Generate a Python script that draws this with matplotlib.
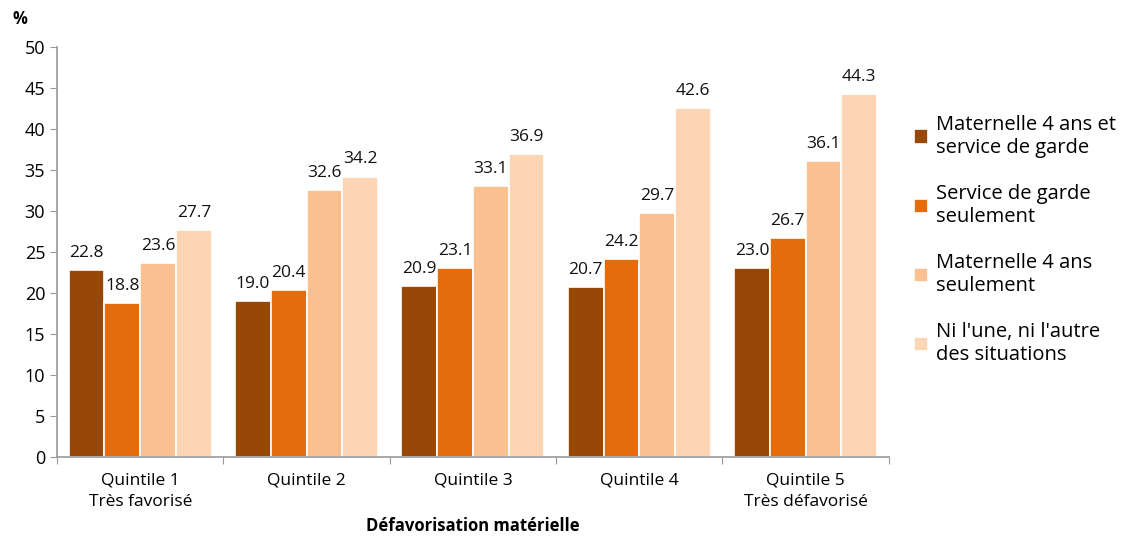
import numpy as np
import matplotlib.pyplot as plt

plt.rcParams['font.family'] = ['Open Sans', 'DejaVu Sans']

categories = ['Quintile 1\nTrès favorisé', 'Quintile 2', 'Quintile 3', 'Quintile 4', 'Quintile 5\nTrès défavorisé']
series_names = ["Maternelle 4 ans et\nservice de garde",
                "Service de garde\nseulement",
                "Maternelle 4 ans\nseulement",
                "Ni l'une, ni l'autre\ndes situations"]
mat_et_garde = [22.8, 19.0, 20.9, 20.7, 23.0]
garde_seul = [18.8, 20.4, 23.1, 24.2, 26.7]
mat_seul = [23.6, 32.6, 33.1, 29.7, 36.1]
ni_lun = [27.7, 34.2, 36.9, 42.6, 44.3]
colors = ['#974706', '#E46C0A', '#FAC090', '#FCD5B5']

values = [mat_et_garde, garde_seul, mat_seul, ni_lun]

fig = plt.figure(figsize=(11.41, 5.39), dpi=100)
ax = fig.add_axes([0.05, 0.152, 0.729, 0.761])

x = np.arange(len(categories))
width = 0.215
for i, (vals, name, c) in enumerate(zip(values, series_names, colors)):
    pos = x + (i - 1.5) * width
    bars = ax.bar(pos, vals, width, color=c, edgecolor='white', linewidth=1.2, label=name)
    for b, v in zip(bars, vals):
        ax.text(b.get_x() + b.get_width() / 2, v + 1.1, f'{v:.1f}',
                ha='center', va='bottom', fontsize=12.5, color='#111111')

ax.set_xlim(-0.5, len(categories) - 0.5)
ax.set_ylim(0, 50)
ax.set_yticks(range(0, 51, 5))
ax.set_xticks(np.arange(-0.5, len(categories), 1))
ax.set_xticklabels([])
ax.set_xticks(x, minor=True)
ax.set_xticklabels(categories, minor=True, fontsize=12.5, linespacing=1.45)
ax.tick_params(axis='x', which='minor', length=0, pad=11)
ax.tick_params(axis='x', which='major', length=5, color='#999999')
ax.tick_params(axis='y', length=5, color='#999999', labelsize=13)
for s in ['top', 'right']:
    ax.spines[s].set_visible(False)
for s in ['left', 'bottom']:
    ax.spines[s].set_color('#999999')
    ax.spines[s].set_linewidth(1.2)

ax.set_xlabel('Défavorisation matérielle', fontweight='bold', fontsize=12, labelpad=5)
fig.text(0.011, 0.965, '%', fontweight='bold', fontsize=12, va='center')

fig.legend(loc='center left', bbox_to_anchor=(0.785, 0.555), frameon=False,
           fontsize=14.5, labelspacing=1.3, handlelength=0.7, handleheight=0.7,
           handletextpad=0.4)

fig.savefig('out.png', dpi=100)
